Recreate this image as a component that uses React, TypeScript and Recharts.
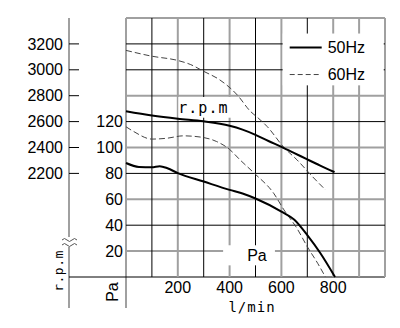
import { ComposedChart, Line, XAxis, YAxis, ReferenceLine } from "recharts"

// flow (l/min) vs rpm, 50Hz
const FLOW_RPM_50 = [0, 100, 200, 300, 400, 450, 500, 550, 600, 650, 700, 750, 805]
const RPM_50 = [2680, 2647, 2622, 2602, 2568, 2538, 2498, 2450, 2405, 2357, 2308, 2260, 2210]

// flow vs rpm, 60Hz
const FLOW_RPM_60 = [0, 100, 200, 250, 300, 360, 430, 480, 510, 545, 610, 660, 720, 770]
const RPM_60 = [3150, 3105, 3072, 3040, 2988, 2925, 2805, 2680, 2628, 2562, 2400, 2305, 2175, 2073]

// flow vs static pressure, 50Hz
const FLOW_PA_50 = [0, 50, 100, 130, 160, 200, 300, 400, 450, 500, 600, 650, 700, 750, 807]
const PA_50 = [88, 85, 84.8, 85.6, 84, 80.2, 73.7, 67.3, 64.5, 60.6, 50.5, 44.2, 32.3, 18.5, 0]

// flow vs static pressure, 60Hz
const FLOW_PA_60 = [0, 30, 100, 160, 220, 290, 350, 400, 440, 495, 570, 610, 660, 700, 740, 770]
const PA_60 = [116, 112.3, 106.5, 107.2, 109, 108, 104.6, 98.5, 90.5, 80.2, 64.7, 51.8, 37.6, 23.4, 10.6, 0]

const FLOW_TICKS = [200, 400, 600, 800]
const PA_TICKS = [20, 40, 60, 80, 100, 120]
const RPM_TICKS = [2200, 2400, 2600, 2800, 3000, 3200]

const GRID_X_DARK = [100, 300, 500, 700]
const GRID_X_LIGHT = [200, 400, 600, 800, 900, 1000]
const GRID_Y_DARK = [40, 80, 120, 160, 180]
const GRID_Y_LIGHT = [20, 60, 100, 140, 200]

const toPoints = (xs: number[], ys: number[]) => xs.map((x, i) => ({ x, y: ys[i] }))

const rpm50 = toPoints(FLOW_RPM_50, RPM_50)
const rpm60 = toPoints(FLOW_RPM_60, RPM_60)
const pa50 = toPoints(FLOW_PA_50, PA_50)
const pa60 = toPoints(FLOW_PA_60, PA_60)

const W = 400
const H = 328
const TOP = 18
const RIGHT = 15
const X_AXIS_H = 51
const PA_AXIS_W = 57
const RPM_AXIS_W = 69
const PLOT_LEFT = PA_AXIS_W + RPM_AXIS_W
const PLOT_BOTTOM = H - X_AXIS_H
const AXIS_END = 308

const GRAY = "#a0a0a0"
const SANS = "'Liberation Sans', Arial, sans-serif"
const MONO = "'DejaVu Sans Mono', monospace"

function RpmTick({ x, y, payload }: any) {
  return (
    <g>
      <line x1={x + 6} x2={x + 16} y1={y} y2={y} stroke="#000" />
      <text x={x} y={y} dy="0.355em" textAnchor="end" fontSize={16} fill="#000" fontFamily={SANS}>
        {payload.value}
      </text>
    </g>
  )
}

// white boxes sitting over the grid, drawn from a reference segment's corners
const boxOf = (p: any) => {
  const x = Math.min(p.x1, p.x2)
  const y = Math.min(p.y1, p.y2)
  return { x, y, width: Math.abs(p.x2 - p.x1), height: Math.abs(p.y2 - p.y1) }
}

function LegendBox(props: any) {
  const { x, y, width, height } = boxOf(props)
  return (
    <g>
      <rect x={x} y={y} width={width} height={height} fill="#fff" />
      <line x1={x + 7} x2={x + 39} y1={y + 14} y2={y + 14} stroke="#000" strokeWidth={2} />
      <text x={x + 45} y={y + 14} dy="0.355em" fontSize={16} fontFamily={SANS}>50Hz</text>
      <line x1={x + 7} x2={x + 39} y1={y + 41} y2={y + 41} stroke="#444" strokeDasharray="5 3" />
      <text x={x + 45} y={y + 41} dy="0.355em" fontSize={16} fontFamily={SANS}>60Hz</text>
    </g>
  )
}

function TextBox(props: any) {
  const { x, y, width, height } = boxOf(props)
  const { text, dx, font, size, spacing } = props
  return (
    <g>
      <rect x={x} y={y} width={width} height={height} fill="#fff" />
      <text x={x + dx} y={y + height / 2} dy="0.355em" fontSize={size} fontFamily={font} letterSpacing={spacing}>
        {text}
      </text>
    </g>
  )
}

function Frame() {
  const rx = RPM_AXIS_W
  return (
    <g>
      {/* rpm axis with break */}
      <line x1={rx} x2={rx} y1={TOP} y2={237} stroke={GRAY} strokeWidth={2} />
      <line x1={rx} x2={rx} y1={247} y2={AXIS_END} stroke={GRAY} strokeWidth={2} />
      <path d={`M${rx - 7} 240 q2.5 -3 5 0 t5 0 t5 0`} fill="none" stroke="#555" />
      <path d={`M${rx - 7} 245 q2.5 -3 5 0 t5 0 t5 0`} fill="none" stroke="#555" />
      {/* Pa axis */}
      <line x1={PLOT_LEFT} x2={PLOT_LEFT} y1={TOP} y2={AXIS_END} stroke={GRAY} strokeWidth={2} />
      {/* base line */}
      <line x1={rx} x2={W - RIGHT} y1={PLOT_BOTTOM} y2={PLOT_BOTTOM} stroke="#000" />
      <text transform={`rotate(-90 58 271)`} x={58} y={271} dy="0.355em" textAnchor="middle"
        fontSize={13} fontFamily={MONO} letterSpacing={0.5}>r.p.m</text>
      <text transform={`rotate(-90 112 292)`} x={112} y={292} dy="0.355em" textAnchor="middle"
        fontSize={16} fontFamily={SANS}>Pa</text>
      <text x={252} y={307} dy="0.355em" textAnchor="middle" fontSize={14} fontFamily={MONO} letterSpacing={1}>
        l/min
      </text>
    </g>
  )
}

export default function App() {
  return (
    <div style={{ width: W, height: H, fontFamily: SANS }}>
      <style>{"body{margin:0}"}</style>
      <ComposedChart width={W} height={H} margin={{ top: TOP, right: RIGHT, bottom: 0, left: 0 }}>
        <XAxis
          dataKey="x"
          type="number"
          domain={[0, 1000]}
          ticks={FLOW_TICKS}
          height={X_AXIS_H}
          axisLine={false}
          tickLine={false}
          tickSize={0}
          tickMargin={5}
          tick={{ fontSize: 16, fill: "#000", fontFamily: SANS }}
        />
        <YAxis
          yAxisId="pa"
          type="number"
          domain={[0, 200]}
          ticks={PA_TICKS}
          width={PA_AXIS_W}
          axisLine={false}
          tickLine={false}
          tickSize={0}
          tickMargin={3}
          tick={{ fontSize: 16, fill: "#000", fontFamily: SANS }}
        />
        <YAxis
          yAxisId="rpm"
          type="number"
          domain={[1400, 3400]}
          ticks={RPM_TICKS}
          width={RPM_AXIS_W}
          axisLine={false}
          tickLine={false}
          tickSize={0}
          tickMargin={6}
          tick={<RpmTick />}
        />

        {GRID_X_LIGHT.map((v) => (
          <ReferenceLine key={"xl" + v} x={v} yAxisId="pa" stroke={GRAY} strokeWidth={2} />
        ))}
        {GRID_Y_LIGHT.map((v) => (
          <ReferenceLine key={"yl" + v} y={v} yAxisId="pa" stroke={GRAY} strokeWidth={2} />
        ))}
        {GRID_X_DARK.map((v) => (
          <ReferenceLine key={"xd" + v} x={v} yAxisId="pa" stroke="#000" />
        ))}
        {GRID_Y_DARK.map((v) => (
          <ReferenceLine key={"yd" + v} y={v} yAxisId="pa" stroke="#000" />
        ))}

        <ReferenceLine yAxisId="pa" segment={[{ x: 605, y: 148 }, { x: 995, y: 188 }]}
          shape={(p: any) => <LegendBox {...p} />} />
        <ReferenceLine yAxisId="pa" segment={[{ x: 202, y: 123 }, { x: 480, y: 139 }]}
          shape={(p: any) => <TextBox {...p} text="r.p.m" dx={0} font={MONO} size={15} spacing={1} />} />
        <ReferenceLine yAxisId="pa" segment={[{ x: 375, y: 9 }, { x: 575, y: 24.5 }]}
          shape={(p: any) => <TextBox {...p} text="Pa" dx={24} font={SANS} size={16} spacing={0} />} />

        <Line data={rpm60} dataKey="y" yAxisId="rpm" type="monotone" stroke="#444" strokeWidth={1}
          strokeDasharray="6 3" dot={false} isAnimationActive={false} />
        <Line data={pa60} dataKey="y" yAxisId="pa" type="monotone" stroke="#444" strokeWidth={1}
          strokeDasharray="6 3" dot={false} isAnimationActive={false} />
        <Line data={rpm50} dataKey="y" yAxisId="rpm" type="monotone" stroke="#000" strokeWidth={2}
          dot={false} isAnimationActive={false} />
        <Line data={pa50} dataKey="y" yAxisId="pa" type="monotone" stroke="#000" strokeWidth={2}
          dot={false} isAnimationActive={false} />

        <Frame />
      </ComposedChart>
    </div>
  )
}
